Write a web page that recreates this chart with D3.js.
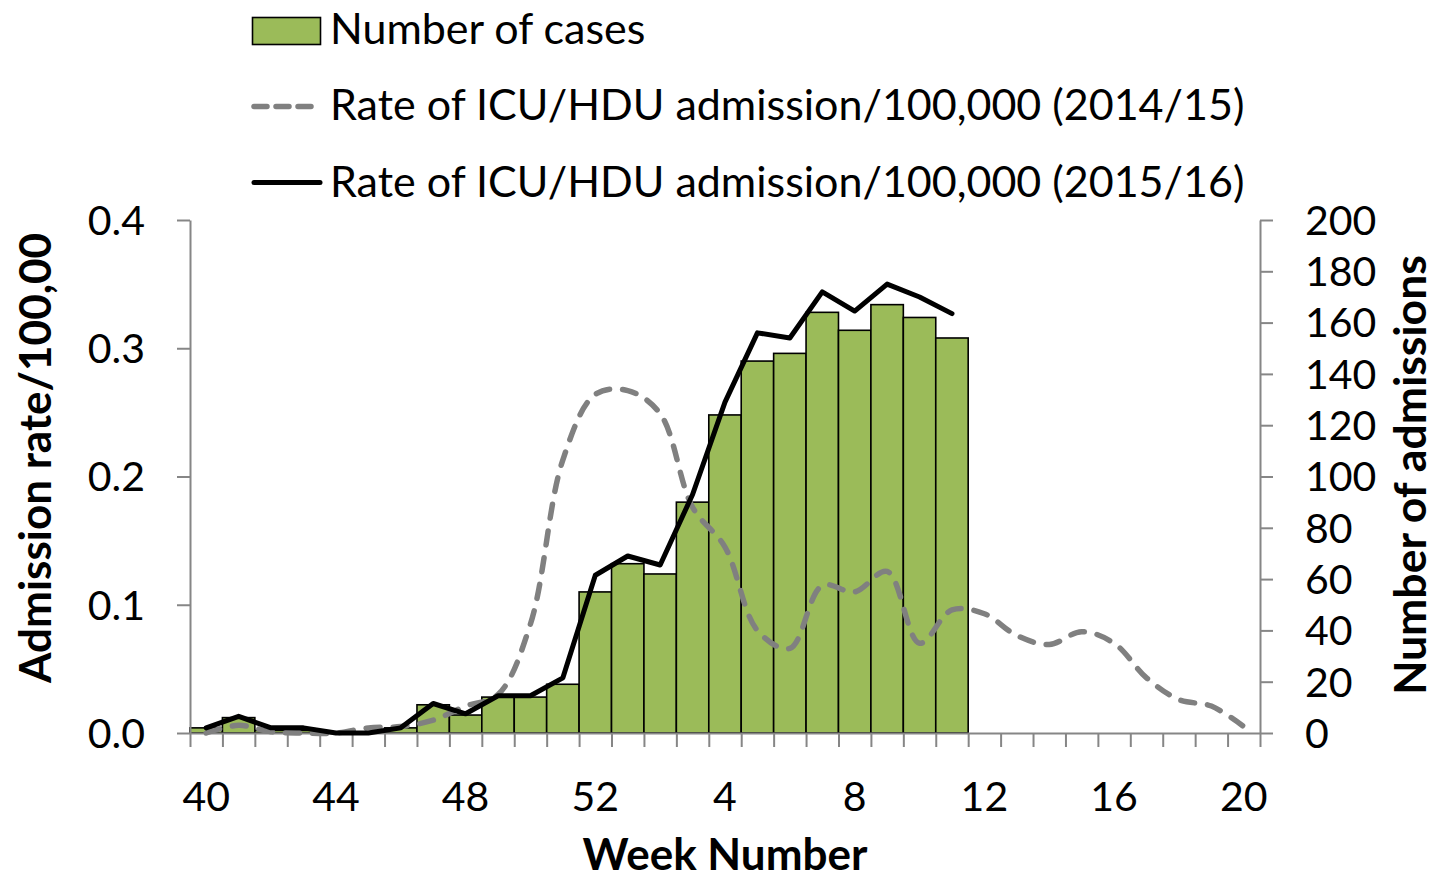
<!DOCTYPE html>
<html><head><meta charset="utf-8">
<script src="https://cdn.jsdelivr.net/npm/d3@7"></script>
<style>
body{margin:0;background:#fff}
svg{display:block}
text{font-family:Lato,"Noto Sans",sans-serif;fill:#000}
</style>
</head><body>
<svg id="chart" width="1437" height="878"></svg>
<script>
// ---------- data ----------
const weeks = [40,41,42,43,44,45,46,47,48,49,50,51,52,1,2,3,4,5,6,7,8,9,10,11,12,13,14,15,16,17,18,19,20];
// number of cases (2015/16), weeks 40..11
const cases = [2,6,1,1,0,0,2,11,7,14,14,19,55,66,62,90,124,145,148,164,157,167,162,154];
// rate of ICU/HDU admission /100,000 (2014/15), weeks 40..20
const rate1415 = [0.000,0.006,0.001,0.000,0.000,0.004,0.005,0.010,0.021,0.030,0.085,0.213,0.264,0.267,0.249,0.176,0.145,0.080,0.066,0.115,0.110,0.126,0.070,0.096,0.093,0.076,0.069,0.079,0.070,0.043,0.026,0.021,0.005];
// rate of ICU/HDU admission /100,000 (2015/16), weeks 40..11
const rate1516 = [0.004,0.013,0.004,0.004,0.000,0.000,0.004,0.023,0.015,0.029,0.029,0.043,0.123,0.138,0.131,0.186,0.258,0.312,0.308,0.344,0.329,0.350,0.340,0.327];
const leftTicks = [0,0.1,0.2,0.3,0.4];
const rightTicks = [0,20,40,60,80,100,120,140,160,180,200];
const xTickLabels = [40,44,48,52,4,8,12,16,20];
const legendLabels = ["Number of cases","Rate of ICU/HDU admission/100,000 (2014/15)","Rate of ICU/HDU admission/100,000 (2015/16)"];

// ---------- layout ----------
const L = 190, R = 1260, T = 220, B = 733;
const FS = 41, FSL = 43, FST = 44;
const axisColor = "#868686";
const barColor = "#9BBB59";

const svg = d3.select("#chart");

const x = d3.scaleBand().domain(weeks).range([L, R]).padding(0);
const xIdx = d3.scaleLinear().domain([0, weeks.length]).range([L, R]);
const yL = d3.scaleLinear().domain([0, 0.4]).range([B, T]);
const yR = d3.scaleLinear().domain([0, 200]).range([B, T]);

// bars
svg.append("g").selectAll("rect")
  .data(cases.map((v,i)=>({w:weeks[i], v})))
  .join("rect")
  .attr("x", d => x(d.w))
  .attr("y", d => yR(d.v))
  .attr("width", x.bandwidth())
  .attr("height", d => yR(0) - yR(d.v))
  .attr("fill", barColor)
  .attr("stroke", "#000")
  .attr("stroke-width", 1.6);

// axes
function styleAxis(g){
  g.select(".domain").attr("stroke", axisColor).attr("stroke-width", 2);
  g.selectAll(".tick line").attr("stroke", axisColor).attr("stroke-width", 2);
  g.selectAll("text").attr("font-size", FS).attr("font-family", "Lato, 'Noto Sans', sans-serif").attr("fill", "#000");
}
const gL = svg.append("g").attr("transform", `translate(${L},0)`)
  .call(d3.axisLeft(yL).tickValues(leftTicks).tickFormat(d3.format(".1f")).tickSizeInner(13).tickSizeOuter(0).tickPadding(32));
styleAxis(gL);
gL.selectAll("text").attr("dy", "0.35em");

const gR = svg.append("g").attr("transform", `translate(${R},0)`)
  .call(d3.axisRight(yR).tickValues(rightTicks).tickSizeInner(13).tickSizeOuter(0).tickPadding(32));
styleAxis(gR);
gR.selectAll("text").attr("dy", "0.35em");

// bottom axis: tick marks at category boundaries
const gB = svg.append("g").attr("transform", `translate(0,${B})`)
  .call(d3.axisBottom(xIdx).tickValues(d3.range(weeks.length + 1)).tickFormat("").tickSizeInner(14).tickSizeOuter(0));
styleAxis(gB);
// bottom labels at category centres (band axis centres them)
const gBL = svg.append("g").attr("transform", `translate(0,${B})`)
  .call(d3.axisBottom(x).tickValues(xTickLabels).tickSize(0));
gBL.select(".domain").remove();
styleAxis(gBL);
gBL.selectAll("text").attr("y", 78).attr("dy", 0);

// lines
const line1415 = d3.line()
  .x((d,i) => x(weeks[i]) + x.bandwidth()/2)
  .y(d => yL(d))
  .curve(d3.curveCatmullRom.alpha(0.5));
svg.append("path").datum(rate1415)
  .attr("d", line1415)
  .attr("fill", "none")
  .attr("stroke", "#808080")
  .attr("stroke-width", 5.5)
  .attr("stroke-dasharray", "14,13")
  .attr("stroke-linecap", "round");

const line1516 = d3.line()
  .x((d,i) => x(weeks[i]) + x.bandwidth()/2)
  .y(d => yL(d));
svg.append("path").datum(rate1516)
  .attr("d", line1516)
  .attr("fill", "none")
  .attr("stroke", "#000")
  .attr("stroke-width", 5)
  .attr("stroke-linejoin", "round")
  .attr("stroke-linecap", "round");

// axis titles
svg.append("text")
  .attr("transform", `translate(51,458) rotate(-90)`)
  .attr("text-anchor", "middle")
  .attr("font-size", FST).attr("font-weight", "bold")
  .text("Admission rate/100,00");
svg.append("text")
  .attr("transform", `translate(1426,475) rotate(-90)`)
  .attr("text-anchor", "middle")
  .attr("font-size", FST + 0.5).attr("font-weight", "bold")
  .text("Number of admissions");
svg.append("text")
  .attr("x", 725).attr("y", 870)
  .attr("text-anchor", "middle")
  .attr("font-size", FST).attr("font-weight", "bold")
  .text("Week Number");

// legend
const lg = svg.append("g");
lg.append("rect").attr("x", 252.5).attr("y", 17.5).attr("width", 68).attr("height", 27)
  .attr("fill", barColor).attr("stroke", "#000").attr("stroke-width", 1.6);
lg.append("line").attr("x1", 254).attr("x2", 316).attr("y1", 106.5).attr("y2", 106.5)
  .attr("stroke", "#808080").attr("stroke-width", 5.5).attr("stroke-dasharray", "13,9").attr("stroke-linecap", "round");
lg.append("line").attr("x1", 254).attr("x2", 320).attr("y1", 182.5).attr("y2", 182.5)
  .attr("stroke", "#000").attr("stroke-width", 5).attr("stroke-linecap", "round");
const baselines = [44, 120, 196.5];
lg.selectAll("text.leg").data(legendLabels).join("text").attr("class", "leg")
  .attr("x", 330).attr("y", (d,i) => baselines[i])
  .attr("font-size", FSL)
  .text(d => d);
</script>
</body></html>
